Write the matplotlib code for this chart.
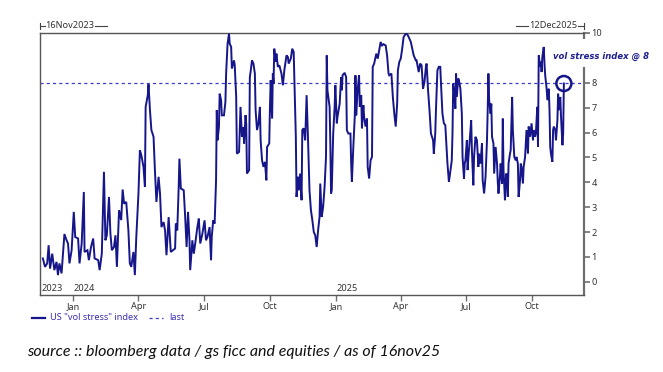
import matplotlib
matplotlib.use("Agg")
import matplotlib.pyplot as plt
import matplotlib.dates as mdates
from matplotlib.lines import Line2D
from matplotlib.patches import Ellipse
import pandas as pd

# ---------------- data ----------------
dates = [
 "2023-11-20","2023-11-23","2023-11-26","2023-11-28","2023-11-30","2023-12-03","2023-12-06","2023-12-09",
 "2023-12-11","2023-12-13","2023-12-16","2023-12-20","2023-12-23","2023-12-25","2023-12-27","2023-12-30",
 "2024-01-02","2024-01-04","2024-01-08","2024-01-10","2024-01-13","2024-01-16","2024-01-17","2024-01-21",
 "2024-01-23","2024-01-26","2024-01-29","2024-01-31","2024-02-05","2024-02-07","2024-02-10","2024-02-13",
 "2024-02-15","2024-02-17","2024-02-20","2024-02-22","2024-02-24","2024-02-27","2024-02-29","2024-03-02",
 "2024-03-05","2024-03-08","2024-03-10","2024-03-12","2024-03-15","2024-03-18","2024-03-20","2024-03-22",
 "2024-03-25","2024-03-27","2024-03-29","2024-04-01","2024-04-03","2024-04-05","2024-04-08","2024-04-10",
 "2024-04-11","2024-04-14","2024-04-15","2024-04-17","2024-04-19","2024-04-22","2024-04-24","2024-04-26",
 "2024-04-29","2024-05-01","2024-05-03","2024-05-06","2024-05-08","2024-05-10","2024-05-13","2024-05-16",
 "2024-05-19","2024-05-22",
 "2024-05-23","2024-05-25","2024-05-27","2024-05-28","2024-05-30","2024-06-03","2024-06-05","2024-06-07",
 "2024-06-09","2024-06-11","2024-06-12","2024-06-15","2024-06-17","2024-06-19","2024-06-22","2024-06-24",
 "2024-06-26","2024-06-29","2024-07-02","2024-07-04","2024-07-06","2024-07-09","2024-07-11","2024-07-12",
 "2024-07-14","2024-07-16","2024-07-18","2024-07-19","2024-07-20","2024-07-22","2024-07-23","2024-07-25",
 "2024-07-26","2024-07-29","2024-07-31","2024-08-01","2024-08-03","2024-08-05","2024-08-06","2024-08-08",
 "2024-08-09","2024-08-12","2024-08-13","2024-08-15","2024-08-16","2024-08-19","2024-08-21","2024-08-23",
 "2024-08-25","2024-08-26","2024-08-28","2024-08-29","2024-08-30","2024-09-02","2024-09-03","2024-09-04",
 "2024-09-06","2024-09-08","2024-09-10","2024-09-11","2024-09-13","2024-09-15","2024-09-17","2024-09-18",
 "2024-09-20","2024-09-22","2024-09-24","2024-09-26","2024-09-27","2024-09-30","2024-10-01","2024-10-02",
 "2024-10-04","2024-10-05","2024-10-06","2024-10-07","2024-10-09","2024-10-10","2024-10-12","2024-10-14",
 "2024-10-17","2024-10-19","2024-10-21","2024-10-24","2024-10-26","2024-10-27","2024-10-30","2024-11-01",
 "2024-11-03","2024-11-06","2024-11-07","2024-11-09","2024-11-10","2024-11-12","2024-11-14","2024-11-15",
 "2024-11-17","2024-11-19","2024-11-21","2024-11-23","2024-11-25","2024-11-27","2024-11-29",
 "2024-12-01","2024-12-03","2024-12-05","2024-12-07","2024-12-09","2024-12-10","2024-12-12","2024-12-14",
 "2024-12-16","2024-12-18","2024-12-19","2024-12-20","2024-12-23","2024-12-24","2024-12-25","2024-12-26",
 "2024-12-28","2024-12-30","2024-12-31","2025-01-02","2025-01-03","2025-01-06","2025-01-08","2025-01-09",
 "2025-01-10","2025-01-13","2025-01-15","2025-01-16","2025-01-18","2025-01-21","2025-01-22","2025-01-23",
 "2025-01-25","2025-01-27","2025-01-28","2025-01-29","2025-01-31","2025-02-02","2025-02-03","2025-02-05",
 "2025-02-06","2025-02-08","2025-02-09","2025-02-11","2025-02-13","2025-02-14","2025-02-16","2025-02-18",
 "2025-02-20","2025-02-21","2025-02-23","2025-02-26","2025-02-28","2025-03-02","2025-03-04","2025-03-06",
 "2025-03-08","2025-03-11","2025-03-13","2025-03-15","2025-03-16","2025-03-19","2025-03-21","2025-03-23",
 "2025-03-25","2025-03-27","2025-03-28","2025-03-30","2025-04-01","2025-04-03","2025-04-05","2025-04-08",
 "2025-04-10","2025-04-12","2025-04-15","2025-04-17","2025-04-19","2025-04-22","2025-04-23","2025-04-26",
 "2025-04-28","2025-04-30","2025-05-02","2025-05-04","2025-05-06","2025-05-07","2025-05-09","2025-05-11",
 "2025-05-13","2025-05-16","2025-05-17","2025-05-19","2025-05-20","2025-05-22","2025-05-24","2025-05-26",
 "2025-05-27","2025-05-29","2025-05-31","2025-06-02","2025-06-03","2025-06-05","2025-06-07",
 "2025-06-08","2025-06-11","2025-06-12","2025-06-13","2025-06-14","2025-06-16","2025-06-17","2025-06-18",
 "2025-06-20","2025-06-21","2025-06-23","2025-06-25","2025-06-26","2025-06-28","2025-06-29","2025-06-30",
 "2025-07-02","2025-07-03","2025-07-04","2025-07-06","2025-07-08","2025-07-09","2025-07-11","2025-07-12",
 "2025-07-14","2025-07-16","2025-07-18","2025-07-19","2025-07-21","2025-07-23","2025-07-24","2025-07-26",
 "2025-07-28","2025-07-30","2025-07-31","2025-08-01","2025-08-02","2025-08-04","2025-08-05","2025-08-06",
 "2025-08-08","2025-08-09","2025-08-11","2025-08-13","2025-08-14","2025-08-15","2025-08-17","2025-08-18",
 "2025-08-20","2025-08-21","2025-08-22","2025-08-24","2025-08-25","2025-08-26","2025-08-28","2025-08-29",
 "2025-08-31","2025-09-01","2025-09-03","2025-09-04","2025-09-06","2025-09-08","2025-09-09","2025-09-11",
 "2025-09-12","2025-09-14","2025-09-15","2025-09-16","2025-09-18","2025-09-19","2025-09-21","2025-09-22",
 "2025-09-23","2025-09-25","2025-09-26","2025-09-28","2025-09-30","2025-10-02","2025-10-03","2025-10-05",
 "2025-10-06","2025-10-08","2025-10-09","2025-10-10","2025-10-12","2025-10-13","2025-10-14","2025-10-15",
 "2025-10-17","2025-10-18","2025-10-19","2025-10-21","2025-10-22","2025-10-24","2025-10-25","2025-10-26",
 "2025-10-27","2025-10-29","2025-10-30","2025-10-31","2025-11-02","2025-11-03","2025-11-05","2025-11-06",
 "2025-11-07","2025-11-09","2025-11-10","2025-11-12","2025-11-13","2025-11-14",
]
vol_stress = [
 0.94,0.60,0.74,1.47,0.53,1.13,0.47,0.80,
 0.27,0.74,0.34,1.92,1.67,1.54,0.74,1.27,
 2.81,1.80,1.74,0.74,1.54,3.61,1.20,1.27,
 0.87,1.40,1.74,0.94,0.87,0.47,1.13,4.42,
 1.67,1.87,3.41,1.94,1.27,1.40,1.87,0.60,
 2.88,2.48,3.71,3.14,3.21,2.07,0.74,0.60,
 1.20,0.27,1.80,3.54,5.29,5.09,4.62,3.81,
 7.03,7.50,7.94,6.90,6.10,5.83,4.42,3.21,
 4.22,3.55,2.20,2.40,2.07,1.07,2.60,1.20,
 1.27,1.34,
 2.34,2.07,3.81,4.95,3.75,3.68,2.61,1.40,
 2.81,1.67,0.47,1.67,1.13,1.54,2.20,2.54,
 1.54,1.94,2.47,1.67,1.80,2.20,0.87,1.80,
 2.47,2.34,4.08,6.90,5.69,6.22,7.56,7.30,
 6.69,6.69,7.23,8.37,9.57,9.97,9.57,9.44,
 8.57,8.90,8.70,7.43,5.15,5.22,7.03,5.83,
 6.22,5.56,6.70,6.33,4.35,4.49,8.23,8.43,
 8.90,8.77,8.37,6.90,6.10,6.37,7.03,5.69,
 4.88,4.62,4.82,4.08,5.42,5.56,7.03,8.10,
 6.56,8.37,7.97,9.37,8.84,9.17,8.64,8.70,
 8.37,7.90,8.50,9.10,9.03,8.77,8.97,9.37,
 9.24,5.83,3.41,4.22,3.68,4.35,3.28,6.10,
 6.17,5.69,7.50,5.69,3.68,2.88,2.47,
 2.00,1.87,1.40,2.07,2.61,3.95,2.61,3.01,
 3.81,5.02,9.10,7.70,7.03,5.56,3.55,3.68,
 5.96,7.03,7.90,6.37,6.64,7.16,8.23,7.70,
 8.30,8.40,8.23,6.10,5.96,5.96,4.75,4.02,
 5.42,6.64,8.30,6.69,7.70,8.30,7.03,7.50,
 6.17,7.10,6.64,6.24,6.56,4.62,4.15,4.88,
 5.02,8.64,8.77,9.17,8.97,9.30,9.64,9.50,
 9.55,9.50,9.10,8.37,8.30,8.37,7.43,6.76,
 6.24,7.16,8.50,8.84,8.97,9.37,9.84,9.97,
 9.95,9.84,9.64,9.37,9.10,8.90,8.90,8.43,
 8.77,8.70,7.76,8.03,8.64,8.77,7.70,6.90,
 5.96,5.69,5.15,5.96,6.90,8.50,8.64,8.64,
 7.97,6.76,6.37,6.30,5.76,4.75,4.02,
 4.22,4.88,5.96,7.97,7.70,6.96,8.37,7.43,
 8.17,8.10,7.76,6.76,5.02,4.15,4.75,4.88,
 5.69,4.49,4.95,5.69,6.50,5.29,3.88,5.02,
 5.83,5.69,4.62,5.15,4.75,5.56,4.08,3.55,
 4.22,5.69,6.90,8.37,7.30,6.76,7.16,5.83,
 5.56,4.35,5.42,4.75,4.02,3.55,4.22,4.75,
 3.95,6.56,4.49,3.28,4.08,4.35,3.41,4.75,
 5.15,5.29,7.43,6.10,5.02,4.88,5.02,4.75,
 3.41,4.08,4.75,4.62,3.95,4.62,5.02,5.56,
 6.10,5.15,6.24,5.83,6.37,5.69,6.10,5.83,
 5.96,7.03,5.42,9.10,8.64,8.84,8.43,9.03,
 9.44,8.77,8.30,7.76,7.30,7.76,6.90,5.42,
 5.15,4.82,6.10,6.24,6.10,5.69,6.50,7.56,
 6.90,7.43,6.64,5.49,5.96,7.97,
]
last_level = 8
x_start, x_end = "2023-11-16", "2025-12-12"
y_ticks = [0, 1, 2, 3, 4, 5, 6, 7, 8, 10]   # the 9 tick is hidden behind the annotation
series_label = 'US "vol stress" index'
last_label = "last"
annotation_text = "vol stress index @ 8"
source_text = "source :: bloomberg data / gs ficc and equities / as of 16nov25"

# ---------------- figure ----------------
W, H = 663, 372
fig = plt.figure(figsize=(W / 100, H / 100), dpi=100)
fig.patch.set_facecolor("white")

def fx(px):
    return px / W

def fy(py):
    return 1 - py / H

L, R, T, B = 40, 584, 33, 295
ax = fig.add_axes([fx(L), fy(B), fx(R - L), (B - T) / H])

NAVY = "#16168a"
DASH = "#3b3bd0"
GREY = "#6e6e6e"
TXT = "#333333"
FONT = "Noto Sans"
FS = 6.6

x = pd.to_datetime(dates)
ax.plot(x, vol_stress, color=NAVY, lw=1.4, solid_joinstyle="miter", zorder=3)
ax.axhline(last_level, color=DASH, lw=0.9, ls=(0, (2.5, 2.5)), zorder=2)

ax.set_xlim(pd.Timestamp(x_start), pd.Timestamp(x_end))
ax.set_ylim(-0.53, 10.0)

# spines
for s in ["left", "top", "bottom"]:
    ax.spines[s].set_color("#555555")
    ax.spines[s].set_linewidth(1.0)
ax.spines["right"].set_color(GREY)
ax.spines["right"].set_linewidth(1.6)

# y axis on the right
ax.yaxis.tick_right()
ax.set_yticks(y_ticks)
ax.set_yticklabels([str(v) for v in y_ticks], fontfamily=FONT, fontsize=FS, color=TXT)
ax.tick_params(axis="y", direction="out", length=4, width=1.2, color=GREY, pad=1.5)

# x axis: quarter months
ax.xaxis.set_major_locator(mdates.MonthLocator(bymonth=[1, 4, 7, 10]))
ax.xaxis.set_major_formatter(mdates.DateFormatter("%b"))
ax.tick_params(axis="x", direction="out", length=4, width=1.0, color=GREY, pad=1.0,
               labelsize=FS, labelcolor=TXT)
for lab in ax.get_xticklabels():
    lab.set_fontfamily(FONT)

# year labels inside the axes
year_marks = [("2023", pd.Timestamp(x_start) + pd.Timedelta(days=2)),
              ("2024", pd.Timestamp("2024-01-01")),
              ("2025", pd.Timestamp("2025-01-01"))]
for yr_label, yr_date in year_marks:
    ax.text(yr_date, 0.008, yr_label, transform=ax.get_xaxis_transform(),
            ha="left", va="bottom", fontsize=FS, color=TXT, fontfamily=FONT)

# range labels above axes
def fline(x0, y0, x1, y1, **kw):
    fig.add_artist(Line2D([fx(x0), fx(x1)], [fy(y0), fy(y1)], transform=fig.transFigure, **kw))

fline(40, 23, 40, 29, color="#444444", lw=0.8)
fline(40, 26, 45, 26, color="#444444", lw=0.8)
fig.text(fx(45.5), fy(26), "16Nov2023", ha="left", va="center", fontsize=FS,
         color=TXT, fontfamily=FONT)
fline(95, 26, 107, 26, color="#444444", lw=0.8)

fline(516, 26, 528, 26, color="#444444", lw=0.8)
fig.text(fx(577.5), fy(26), "12Dec2025", ha="right", va="center", fontsize=FS,
         color=TXT, fontfamily=FONT)
fline(578, 26, 584, 26, color="#444444", lw=0.8)
fline(584, 23, 584, 29, color="#444444", lw=0.8)

# white patch interrupting the right axis behind the annotation
fig.add_artist(plt.Rectangle((fx(578), fy(67)), fx(12), (67 - 39) / H,
                             transform=fig.transFigure, fc="white", ec="none", zorder=5))
fig.text(fx(601), fy(56.5), annotation_text, ha="center", va="center",
         fontsize=6.1, fontweight="bold", fontstyle="italic", color="#1f1f8f",
         fontfamily="DejaVu Sans", zorder=6,
         bbox=dict(boxstyle="square,pad=0.1", fc="white", ec="none"))

# circle on the last point
span_days = mdates.date2num(pd.Timestamp(x_end)) - mdates.date2num(pd.Timestamp(x_start))
ax.add_patch(Ellipse((mdates.date2num(x[-1]), vol_stress[-1]),
                     width=15 / (R - L) * span_days, height=15 / (B - T) * 10.53,
                     fill=False, ec=NAVY, lw=1.8, zorder=4, clip_on=False))

# legend (manual)
fline(32, 318, 45, 318, color=NAVY, lw=1.6)
fig.text(fx(50.5), fy(318), series_label, ha="left", va="center", fontsize=FS,
         color="#3a2fb0", fontfamily=FONT)
fline(149, 318, 163, 318, color=DASH, lw=0.9, ls=(0, (2.5, 2.5)))
fig.text(fx(169), fy(318), last_label, ha="left", va="center", fontsize=FS,
         color="#3a2fb0", fontfamily=FONT)

# source line
fig.text(fx(27), fy(352), source_text, ha="left", va="center", fontsize=11.5,
         fontstyle="italic", color="#111111", fontfamily="Lato")

fig.savefig("out.png", dpi=100, facecolor="white")
